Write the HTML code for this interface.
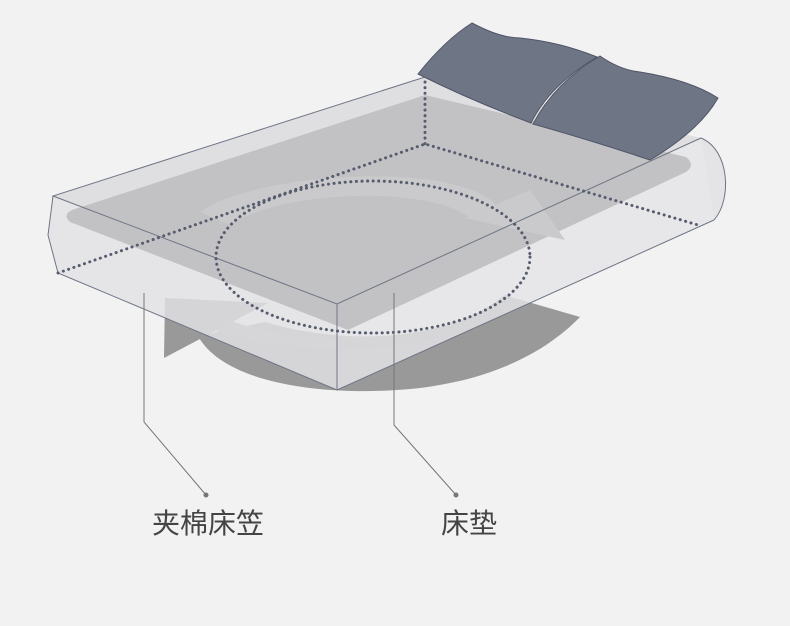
<!DOCTYPE html>
<html><head><meta charset="utf-8"><style>
html,body{margin:0;padding:0;background:#f2f2f2;}
svg{display:block;}
</style></head><body>
<svg width="790" height="626" viewBox="0 0 790 626" xmlns="http://www.w3.org/2000/svg">
<rect width="790" height="626" fill="#f2f2f2"/>
<!-- dark rotation arrow below -->
<path d="M198,336 C225,385 330,398 420,388 C500,378 550,348 580,317 L504,295 C460,335 360,350 265,322 Z" fill="#999999"/>
<polygon points="165,298 268,303 164,358" fill="#999999"/>
<!-- box faces -->
<polygon points="53,196 425,77 701,138 337,304" fill="#dcdcde" fill-opacity="0.85"/>
<polygon points="53,196 337,304 337,390 58,273 48,235" fill="#e2e2e4" fill-opacity="0.82"/>
<polygon points="337,304 701,138 714,220 337,390" fill="#e4e4e6" fill-opacity="0.82"/>
<path d="M701,138 C730,150 732,200 714,220" fill="#e4e4e6" stroke="#6e7585" stroke-width="1"/>
<!-- inner pad -->
<path d="M72,210 L425,95 L686,157 Q696,165 686,172 L348,330 L70,222 Q62,215 72,210 Z" fill="#c2c2c4"/>
<!-- light arc arrow on top -->
<path d="M200,212 C260,170 470,160 500,210 L470,218 C430,185 280,190 230,225 Z" fill="#cacacc"/>
<polygon points="530,190 565,240 465,218" fill="#cacacc"/>
<path d="M230,320 C300,350 440,345 500,300 L505,310 C450,355 300,360 215,330 Z" fill="#d6d6d8"/>
<!-- edges -->
<g stroke="#6e7585" stroke-width="1" fill="none">
<polyline points="425,77 53,196 337,304 701,138"/>
<polyline points="53,196 48,235 58,273 337,390 714,220"/>
<line x1="337" y1="304" x2="337" y2="390"/>
</g>
<!-- dotted -->
<g stroke="#565c6d" stroke-width="3" fill="none" stroke-dasharray="0.1 5.5" stroke-linecap="round">
<polyline points="58,273 425,144 698,225"/>
<line x1="425" y1="82" x2="425" y2="144"/>
<ellipse cx="373" cy="257" rx="157" ry="76"/>
</g>
<!-- pillows -->
<path d="M472,23 Q500,38 520,38 Q560,42 597,57 Q550,85 531,123 Q470,100 418,74 Q445,40 472,23 Z" fill="#6e7585" stroke="#4f5566" stroke-width="1"/>
<path d="M600,56 Q620,70 640,72 Q690,80 718,98 Q700,130 650,160 Q590,140 533,124 Q555,82 600,56 Z" fill="#6e7585" stroke="#4f5566" stroke-width="1"/>
<!-- leaders -->
<g stroke="#777" stroke-width="1" fill="none">
<polyline points="144,293 144,422 206,495"/>
<polyline points="394,293 394,425 456,495"/>
</g>
<circle cx="206" cy="495" r="2.5" fill="#777"/>
<circle cx="456" cy="495" r="2.5" fill="#777"/>
<g font-family="'Liberation Sans','Noto Sans CJK SC',sans-serif" font-size="28" fill="#444">
<text x="152" y="533">夹棉床笠</text>
<text x="441" y="533">床垫</text>
</g>
</svg>
</body></html>
